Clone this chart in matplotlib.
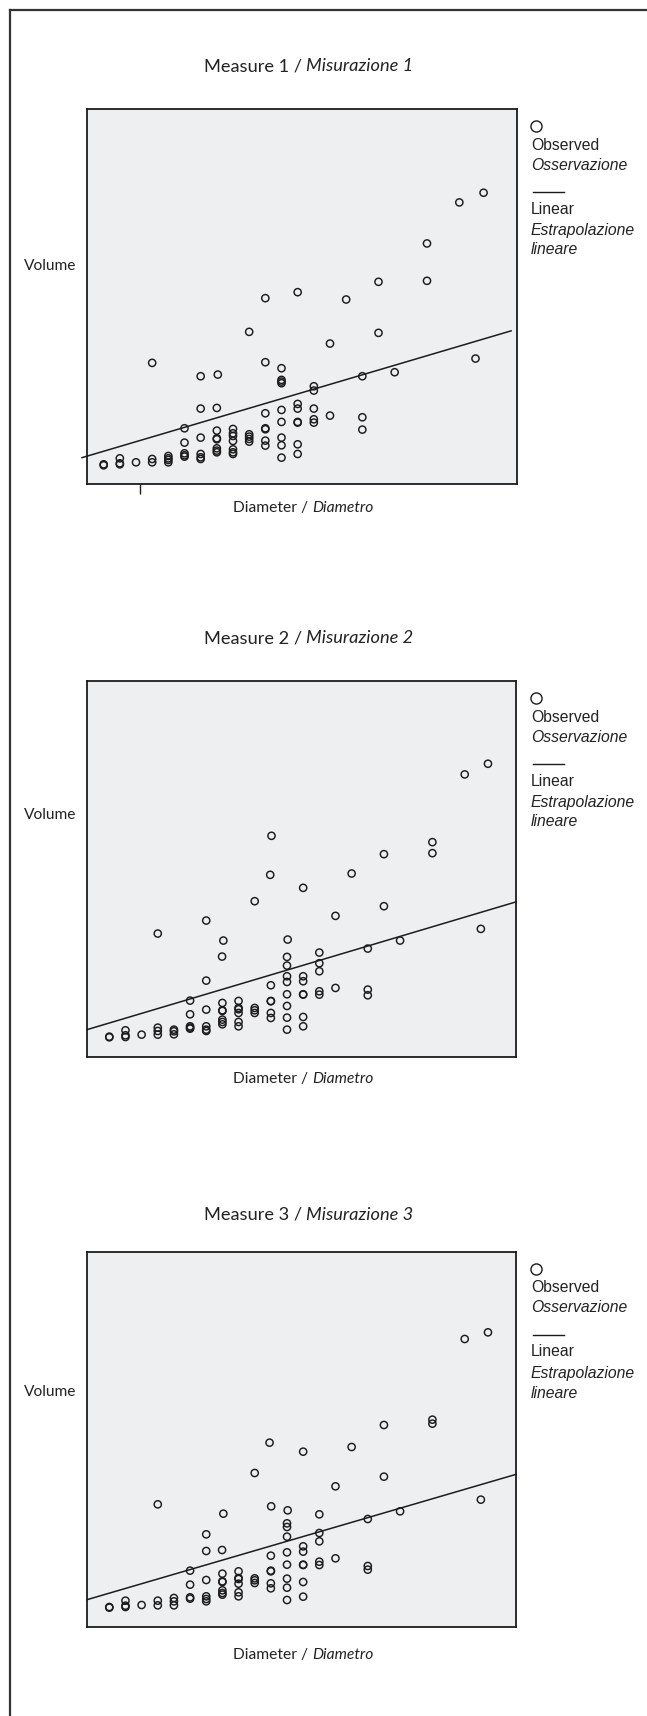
import matplotlib
matplotlib.use("Agg")
import matplotlib.pyplot as plt
from matplotlib.lines import Line2D
from matplotlib.transforms import IdentityTransform

# ---------------- data ----------------
diam_1 = [8, 8, 9, 9, 9, 10, 11, 11, 11, 12, 12, 12, 12,
          13, 13, 13, 13, 13, 14, 14, 14, 14, 14, 14,
          15.06, 15, 15, 15, 15, 15, 15, 15,
          16, 16, 16, 16, 16, 16, 16, 17, 17, 17, 17, 17,
          18, 18, 18, 18, 18, 18, 18,
          19, 19, 19, 19, 19, 19, 19, 19, 19,
          20, 20, 20, 20, 20, 20, 20, 21, 21, 21, 21, 21,
          22, 22, 23, 24, 24, 24, 25, 25, 26, 28, 28, 30, 31, 31.5]
vol_1 = [5.9, 5.6, 7.7, 6.2, 5.9, 6.5, 7.5, 6.5, 36.3, 8.4, 7.7, 7.2, 6.5,
         16.7, 12.4, 9.2, 8.6, 8.2, 32.3, 22.6, 13.9, 9.0, 8.0, 7.5,
         32.8, 22.8, 16.0, 13.7, 13.4, 10.7, 10.0, 9.5,
         16.5, 15.2, 14.4, 12.9, 10.4, 9.5, 9.0, 45.6, 14.9, 14.2, 13.5, 12.7,
         55.7, 36.5, 21.2, 16.7, 16.4, 13.0, 11.5,
         34.7, 31.2, 30.7, 30.2, 22.2, 18.6, 13.9, 11.6, 7.9,
         57.5, 24.0, 22.6, 18.6, 18.4, 11.9, 9.0, 29.3, 28.0, 22.6, 19.4, 18.4,
         42.1, 20.5, 55.3, 32.3, 20.0, 16.3, 60.6, 45.3, 33.5, 72.1, 60.9, 84.4, 37.6, 87.3]

diam_2 = [8, 8, 9, 9, 9, 10, 11, 11, 11, 11, 12, 12, 12,
          13, 13, 13, 13, 13, 14, 14, 14, 14, 14, 14,
          15.06, 14.98, 15, 15, 15, 15, 15, 15,
          16, 16, 16, 16, 16, 16, 17, 17, 17, 17,
          18.04, 17.96, 18, 18, 18, 18, 18,
          19.04, 19, 19, 19, 19, 19, 19, 19, 19,
          20, 20, 20, 20, 20, 20, 20, 21, 21, 21, 21, 21,
          22, 22, 23, 24, 24, 24, 25, 25, 26, 28, 28, 30, 31, 31.44]
vol_2 = [6.1, 5.9, 8.0, 6.5, 6.0, 6.7, 37.0, 8.8, 7.8, 6.7, 8.2, 7.7, 6.8,
         16.9, 12.8, 9.2, 8.8, 8.5, 40.9, 22.9, 14.2, 9.2, 8.2, 7.8,
         34.9, 30.1, 16.2, 14.0, 13.8, 11.2, 10.5, 9.8,
         16.8, 14.7, 14.3, 13.2, 10.5, 9.2, 46.7, 14.7, 14.0, 13.2,
         66.3, 54.6, 21.5, 16.8, 16.7, 13.2, 11.7,
         35.2, 30.0, 27.4, 24.2, 22.5, 18.8, 15.3, 11.8, 8.2,
         50.7, 24.2, 22.7, 18.8, 18.7, 12.0, 9.2, 31.3, 28.1, 25.7, 19.7, 18.7,
         42.3, 20.7, 55.0, 32.5, 20.2, 18.5, 60.8, 45.2, 34.9, 64.4, 61.1, 84.7, 38.4, 87.9]

diam_3 = [8, 8, 9, 9, 9, 10, 11, 11, 11, 12, 12, 12,
          13, 13, 13, 13, 14, 14, 14, 14, 14, 14,
          15.06, 14.98, 15, 15, 15, 15, 15, 15,
          16, 16, 16, 16, 16, 16, 17, 17, 17, 17,
          17.92, 18.02, 18, 18, 18, 18, 18,
          19.04, 19, 19, 19, 19, 19, 19, 19, 19,
          20, 20, 20, 20, 20, 20, 20, 21, 21, 21, 21, 21,
          22, 22, 23, 24, 24, 24, 25, 25, 26, 28, 28, 30, 31, 31.44]
vol_3 = [6.0, 5.8, 7.9, 6.4, 6.0, 6.6, 36.8, 7.9, 6.5, 8.7, 7.7, 6.5,
         16.9, 12.7, 8.9, 8.5, 27.8, 22.8, 14.1, 9.2, 8.4, 7.7,
         34.0, 23.1, 16.0, 13.7, 13.5, 11.0, 10.2, 9.7,
         16.7, 14.7, 14.4, 13.0, 10.4, 9.2, 46.2, 14.6, 14.0, 13.2,
         55.3, 36.2, 21.4, 16.9, 16.7, 13.1, 11.6,
         35.0, 31.1, 30.0, 27.1, 22.4, 18.7, 14.5, 11.8, 8.1,
         52.6, 24.2, 22.6, 18.7, 18.6, 13.5, 9.1, 33.8, 28.2, 25.7, 19.6, 18.6,
         42.2, 20.6, 54.0, 32.4, 18.3, 17.2, 60.6, 45.1, 34.7, 62.2, 61.0, 86.4, 38.2, 88.4]

# linear extrapolation lines (end points)
fit_diam_1 = [6.66, 33.2]
fit_vol_1 = [7.9, 45.9]
fit_diam_2 = [6.62, 33.18]
fit_vol_2 = [8.2, 46.5]
fit_diam_3 = [6.62, 33.18]
fit_vol_3 = [8.2, 45.8]

titles_regular = ["Measure 1 /", "Measure 2 /", "Measure 3 /"]
titles_italic = ["Misurazione 1", "Misurazione 2", "Misurazione 3"]
y_label = "Volume"
x_label_regular = "Diameter /"
x_label_italic = "Diametro"
legend_observed = ("Observed", "Osservazione")
legend_linear = ("Linear", "Estrapolazione", "lineare")

# ---------------- layout ----------------
W, H = 647, 1716
DPI = 100
fig = plt.figure(figsize=(W / DPI, H / DPI), dpi=DPI)
fig.patch.set_facecolor("white")
ID = IdentityTransform()
INK = "#1c1c1c"
LABEL_FONT = ["Lato", "DejaVu Sans"]
LEGEND_FONT = ["Liberation Sans", "DejaVu Sans"]

renderer = fig.canvas.get_renderer()


def pieces_text(pieces, x, y, size, family, ha="center"):
    objs = []
    for s, st in pieces:
        objs.append(fig.text(0, 0, s, fontsize=size, style=st, family=family,
                             va="center", ha="left", transform=ID, color="#222222"))
    widths = [o.get_window_extent(renderer).width for o in objs]
    gap = 0.26 * size * DPI / 72
    total = sum(widths) + gap * (len(objs) - 1)
    x0 = x - total / 2 if ha == "center" else x
    for o, w in zip(objs, widths):
        o.set_position((x0, H - y))
        x0 += w + gap
    return total, objs


def fitted_text(pieces, x, y, target_w, family, ha="center"):
    total, objs = pieces_text(pieces, x, y, 10, family, ha)
    for o in objs:
        o.remove()
    size = 10 * target_w / total
    pieces_text(pieces, x, y, size, family, ha)
    return size


panels = [
    dict(diam=diam_1, vol=vol_1, fd=fit_diam_1, fv=fit_vol_1,
         box=(87, 109, 517, 484), xlim=(6.969, 33.567), ylim=(0, 112.4),
         title_y=66, vol_y=266, diam_y=508, tick=10.27),
    dict(diam=diam_2, vol=vol_2, fd=fit_diam_2, fv=fit_vol_2,
         box=(87, 681, 516, 1057), xlim=(6.619, 33.175), ylim=(0, 112.7),
         title_y=638, vol_y=815, diam_y=1079, tick=None),
    dict(diam=diam_3, vol=vol_3, fd=fit_diam_3, fv=fit_vol_3,
         box=(87, 1252, 516, 1627), xlim=(6.619, 33.175), ylim=(0, 112.5),
         title_y=1215, vol_y=1392, diam_y=1655, tick=None),
]

legend_size = None
for i, p in enumerate(panels):
    x0, y0, x1, y1 = p["box"]
    ax = fig.add_axes([x0 / W, 1 - y1 / H, (x1 - x0) / W, (y1 - y0) / H])
    ax.set_facecolor("#EEEFF1")
    for sp in ax.spines.values():
        sp.set_color(INK)
        sp.set_linewidth(1.3)
    ax.scatter(p["diam"], p["vol"], s=27, facecolors="none", edgecolors=INK,
               linewidths=1.05, zorder=3)
    ax.plot(p["fd"], p["fv"], color=INK, lw=1.1, clip_on=False, zorder=4)
    ax.set_xlim(*p["xlim"])
    ax.set_ylim(*p["ylim"])
    ax.set_yticks([])
    if p["tick"] is not None:
        ax.set_xticks([p["tick"]])
        ax.tick_params(axis="x", length=7, width=1.0, color=INK, labelbottom=False)
    else:
        ax.set_xticks([])

    # title, axis labels
    fitted_text([(titles_regular[i], "normal"), (titles_italic[i], "italic")],
                308.6, p["title_y"], 210, LABEL_FONT)
    fitted_text([(y_label, "normal")], 50, p["vol_y"], 52.5, LABEL_FONT)
    fitted_text([(x_label_regular, "normal"), (x_label_italic, "italic")],
                303.6, p["diam_y"], 141, LABEL_FONT)

    # legend
    if legend_size is None:
        t, objs = pieces_text([(legend_linear[1], "italic")], 0, 0, 10, LEGEND_FONT, "left")
        for o in objs:
            o.remove()
        legend_size = 10 * 105 / t
    fig.add_artist(Line2D([536], [H - (y0 + 16.5)], transform=ID, marker="o",
                          markersize=8, mfc="none", mec=INK, mew=1.0, ls="none"))
    fig.add_artist(Line2D([533, 564], [H - (y0 + 83)] * 2, transform=ID,
                          color=INK, lw=1.0))
    rows = [(legend_observed[0], "normal", 36), (legend_observed[1], "italic", 56),
            (legend_linear[0], "normal", 100), (legend_linear[1], "italic", 121.5),
            (legend_linear[2], "italic", 141)]
    for s, st, dy in rows:
        fig.text(531, H - (y0 + dy), s, fontsize=legend_size, style=st,
                 family=LEGEND_FONT, va="center", ha="left", transform=ID,
                 color="#222222")

# outer frame (left and top edges only)
fig.add_artist(Line2D([10, 10], [0, H - 10], transform=ID, color="#333333", lw=1.6))
fig.add_artist(Line2D([10, W], [H - 10, H - 10], transform=ID, color="#333333", lw=1.6))

fig.savefig("out.png", dpi=DPI)
